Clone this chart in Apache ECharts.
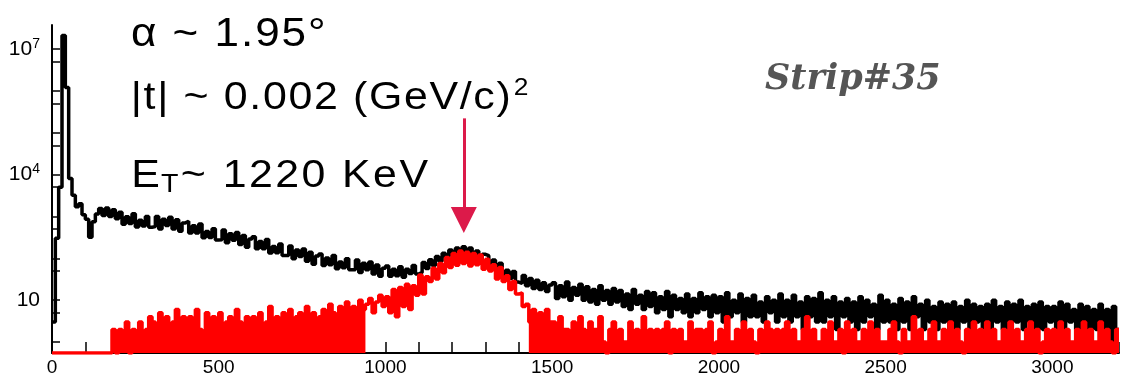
<!DOCTYPE html>
<html><head><meta charset="utf-8">
<script src="https://cdn.jsdelivr.net/npm/echarts@6/dist/echarts.min.js"></script>
<style>html,body{margin:0;padding:0;background:#fff}#c{width:1122px;height:377px}</style>
</head><body><div id="c"></div>
<script>
// ---- data (counts per 10-channel bin) ----
const binWidth = 10;
const blackCounts = [
  3, 300, 5000, 21000000, 1200000, 8000, 3200, 1700, 2000, 1100,
  850, 320, 750, 1150, 1550, 1050, 1600, 1000, 1450, 880,
  1254, 648, 983, 680, 1154, 559, 814, 593, 997, 551,
  570, 993, 504, 852, 609, 959, 503, 832, 442, 701,
  766, 400, 599, 400, 660, 311, 438, 312, 508, 274,
  277, 472, 234, 386, 270, 414, 212, 348, 184, 289,
  326, 169, 253, 170, 282, 133, 190, 135, 219, 117,
  116, 196, 97, 158, 110, 167, 85, 139, 72, 113,
  127, 67, 102, 70, 117, 56, 81, 59, 98, 53,
  53, 91, 46, 76, 53, 82, 42, 69, 37, 58,
  65, 37, 55, 38, 63, 35, 55, 43, 67, 42,
  46, 79, 57, 92, 67, 110, 85, 132, 101, 158,
  113, 176, 126, 188, 128, 175, 113, 150, 90, 124,
  115, 63, 91, 53, 76, 38, 52, 33, 48, 27,
  25, 39, 22, 33, 19, 30, 18, 26, 16, 23,
  26, 11, 22, 12, 27, 10, 20, 13, 24, 10,
  21, 9, 18, 8, 22, 10, 17, 8, 19, 9,
  17, 7, 14, 6, 18, 8, 13, 6, 16, 7,
  15, 5, 12, 6, 16, 4, 13, 6, 11, 5,
  14, 4, 11, 5, 15, 6, 12, 4, 13, 5,
  12, 3, 15, 4, 10, 5, 14, 3, 11, 4,
  13, 4, 9, 3, 12, 5, 10, 3, 14, 4,
  10, 3, 13, 4, 9, 2, 12, 4, 11, 3,
  15, 3, 10, 4, 12, 2, 9, 4, 11, 3,
  9, 2, 12, 3, 10, 4, 8, 2, 13, 3,
  10, 3, 8, 2, 11, 3, 9, 2, 12, 4,
  8, 2, 10, 3, 7, 2, 9, 3, 8, 2,
  9, 2, 7, 3, 10, 1, 8, 3, 7, 2,
  8, 2, 10, 3, 7, 2, 9, 1, 8, 3,
  10, 2, 7, 3, 8, 2, 9, 2, 7, 3,
  7, 2, 9, 1, 8, 3, 6, 2, 8, 2,
  7, 1, 6, 2, 8, 2, 6, 1, 7, 2
];
const redCounts = [
  0, 0, 0, 0, 0, 0, 0, 0, 0, 0,
  0, 0, 0, 0, 0, 0, 0, 0, 2, 0,
  2, 1, 3, 0, 2, 1, 3, 1, 2, 4,
  3, 1, 5, 2, 4, 1, 3, 6, 2, 4,
  2, 4, 3, 6, 2, 1, 5, 3, 4, 2,
  5, 2, 3, 4, 1, 6, 3, 2, 4, 3,
  4, 2, 5, 1, 3, 7, 2, 4, 1, 5,
  3, 6, 2, 4, 5, 2, 7, 3, 5, 1,
  4, 6, 3, 8, 5, 2, 7, 4, 9, 5,
  7, 4, 10, 6, 8, 11, 5, 9, 13, 7,
  12, 5, 18, 4, 20, 7, 24, 6, 22, 13,
  40, 14, 36, 28, 58, 32, 75, 45, 105, 60,
  130, 68, 150, 75, 140, 65, 130, 70, 120, 55,
  95, 50, 70, 32, 60, 28, 38, 18, 28, 14,
  15, 7, 8, 3, 6, 1, 5, 2, 6, 3,
  3, 1, 4, 2, 2, 1, 3, 1, 4, 2,
  1, 3, 2, 2, 4, 1, 0, 2, 3, 1,
  2, 1, 1, 3, 1, 2, 1, 4, 1, 2,
  1, 2, 1, 2, 3, 0, 2, 1, 2, 1,
  1, 3, 1, 2, 2, 1, 2, 3, 0, 1,
  2, 1, 4, 1, 1, 2, 1, 3, 1, 2,
  1, 0, 2, 1, 3, 2, 1, 2, 1, 2,
  3, 1, 2, 1, 1, 2, 4, 1, 2, 1,
  1, 2, 1, 3, 1, 1, 2, 0, 3, 1,
  2, 1, 1, 2, 1, 3, 1, 2, 1, 1,
  1, 2, 3, 1, 0, 2, 1, 1, 4, 1,
  2, 1, 1, 2, 3, 1, 1, 2, 1, 3,
  1, 2, 1, 0, 2, 1, 3, 1, 2, 1,
  3, 1, 2, 1, 1, 2, 1, 3, 1, 2,
  1, 1, 2, 3, 1, 2, 0, 1, 2, 1,
  2, 1, 3, 1, 2, 1, 1, 2, 1, 3,
  1, 2, 1, 1, 3, 1, 2, 1, 0, 2
];
const xLabelValues = [0, 500, 1000, 1500, 2000, 2500, 3000];
const yTickValues = [1, 5, 10, 50, 100, 500, 1e3, 5e3, 1e4, 5e4, 1e5, 5e5, 1e6, 5e6, 1e7];
const yLabelValues = [10, 1e4, 1e7];
const redFillBreak = [940, 1430];      // channels where the red peak is drawn as outline only
const arrowChannel = 1235, arrowFrom = 2.2e5, arrowTo = 820;

// ---- chart ----
const yMin = 0.546, yMax = 3.74e7, xMax = 3200;
function toPoints(arr) {
  const pts = arr.map((v, i) => [i * binWidth, v > 0 ? v : yMin]);
  const last = arr[arr.length - 1];
  pts.push([arr.length * binWidth, last > 0 ? last : yMin]);
  return pts;
}
const blackPts = toPoints(blackCounts);
const redPts = toPoints(redCounts);
const redFillPts = redPts.map(p => (p[0] < redFillBreak[0] || p[0] >= redFillBreak[1]) ? p : [p[0], null]);

const FONT = '"Liberation Sans", Arial, Helvetica, sans-serif';
function tracked(str, style) {
  return Array.from(str).map(c => '{' + style + '|' + c + '}').join('');
}

const chart = echarts.init(document.getElementById('c'));
chart.setOption({
  animation: false,
  backgroundColor: '#fff',
  grid: { left: 52, right: -6, top: 25, bottom: 24, containLabel: false },
  xAxis: {
    type: 'value', min: 0, max: xMax, interval: 100,
    axisLine: { show: true, lineStyle: { color: '#000', width: 2 } },
    axisTick: { show: true, inside: true, length: 11, lineStyle: { color: '#000', width: 1.5 } },
    splitLine: { show: false },
    axisLabel: {
      formatter: v => xLabelValues.includes(v) ? String(v) : '',
      fontSize: 19, margin: 5, color: '#000', fontFamily: FONT
    }
  },
  yAxis: {
    type: 'log', logBase: 10, min: yMin, max: yMax,
    axisLine: { show: true, lineStyle: { color: '#000', width: 2 } },
    axisTick: { show: true, inside: true, length: 8, customValues: yTickValues, lineStyle: { color: '#000', width: 1.5 } },
    splitLine: { show: false },
    axisLabel: {
      margin: 12, color: '#000', fontFamily: FONT, fontSize: 21,
      customValues: yLabelValues,
      formatter: v => {
        const n = Math.round(Math.log10(v));
        return n === 1 ? '{b|10}' : '{b|10}{s|' + n + '}';
      },
      rich: {
        b: { fontSize: 21, lineHeight: 24, fontFamily: FONT, color: '#000' },
        s: { fontSize: 14, lineHeight: 14, verticalAlign: 'top', fontFamily: FONT, color: '#000' }
      }
    }
  },
  series: [
    {
      type: 'line', step: 'end', data: blackPts, showSymbol: false, symbol: 'none',
      lineStyle: { color: '#000', width: 3.5 }, z: 2,
      markLine: {
        silent: true, symbol: ['none', 'triangle'], symbolSize: [26, 26],
        lineStyle: { color: '#dc1a4a', width: 3, type: 'solid' },
        label: { show: false },
        data: [[{ coord: [arrowChannel, arrowFrom] }, { coord: [arrowChannel, arrowTo] }]]
      }
    },
    {
      type: 'line', step: 'end', data: redFillPts, showSymbol: false, symbol: 'none', connectNulls: false,
      lineStyle: { width: 0, color: '#ff0000' }, areaStyle: { color: '#ff0000', opacity: 1, origin: 'start' }, z: 3
    },
    {
      type: 'line', step: 'end', data: redPts, showSymbol: false, symbol: 'none',
      lineStyle: { color: '#ff0000', width: 3.5 }, z: 4
    }
  ],
  graphic: [
    { type: 'text', x: 130, y: 12, scaleX: 1.1, style: {
        text: tracked('α ~ 1.95°', 'm'), fill: '#000',
        rich: { m: { fontSize: 40, lineHeight: 46, fontFamily: FONT, fill: '#000', padding: [0, 0.9, 0, 0.9] } } } },
    { type: 'text', x: 130, y: 76, scaleX: 1.1, style: {
        text: tracked('|t| ~ 0.002 (GeV/c)', 'm') + '{s|2}', fill: '#000',
        rich: { m: { fontSize: 39, lineHeight: 44, fontFamily: FONT, fill: '#000', padding: [0, 0.75, 0, 0.75] },
                s: { fontSize: 24, lineHeight: 28, verticalAlign: 'top', fontFamily: FONT, fill: '#000', padding: [0, 0, 0, 2] } } } },
    { type: 'text', x: 130, y: 154, scaleX: 1.1, style: {
        text: '{m|E}{t|T}' + tracked('~ 1220 KeV', 'm'), fill: '#000',
        rich: { m: { fontSize: 39, lineHeight: 44, fontFamily: FONT, fill: '#000', padding: [0, 1.1, 0, 1.1] },
                t: { fontSize: 26, lineHeight: 22, verticalAlign: 'bottom', fontFamily: FONT, fill: '#000', padding: [0, 1, 0, 0] } } } },
    { type: 'text', x: 765, y: 62, style: { text: 'Strip#35', fontSize: 35, fontFamily: '"DejaVu Serif", serif', fontStyle: 'italic', fontWeight: 'bold', fill: '#555' } }
  ]
});
</script>
</body></html>
